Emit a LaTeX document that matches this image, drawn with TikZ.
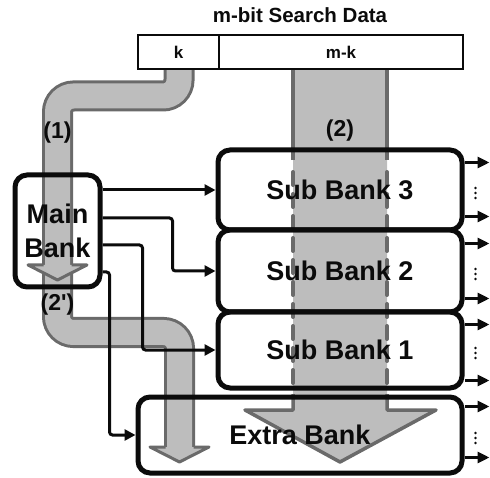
\documentclass[tikz,border=0pt]{standalone}
\usepackage{fontspec}
\setmainfont{Liberation Sans}
\usetikzlibrary{calc,arrows.meta}
\definecolor{cpipe}{HTML}{BDBDBD}
\definecolor{cpipeedge}{HTML}{6A6A6A}
\definecolor{cink}{HTML}{0B0B0B}

\tikzset{
  bank/.style={draw=cink, line width=5pt, rounded corners=12pt, inner sep=0pt,
    text=cink, font=\bfseries\fontsize{27}{34}\selectfont},
  field/.style={draw=cink, line width=1.6pt, fill=white, inner sep=0pt,
    minimum height=34pt, text=cink, font=\bfseries\fontsize{17}{19}\selectfont},
  link/.style={draw=cink, line width=3pt, rounded corners=3pt,
    -{Triangle[length=11pt,width=11pt]}},
  outlink/.style={draw=cink, line width=3pt, -{Triangle[length=12pt,width=11pt]}},
  pipe/.style={draw=cpipeedge, line width=3pt, double=cpipe,
    double distance=25pt, rounded corners=16pt},
  pipeedge/.style={draw=cpipeedge, line width=3.5pt, line join=round},
  tag/.style={text=cink, font=\bfseries\fontsize{23}{25}\selectfont},
}

\begin{document}
\begin{tikzpicture}[x=1pt, y=-1pt]
\useasboundingbox (0,0) rectangle (490,478);
%% ------------------------------------------------------------------ data paths
% (1): the k bits down into the main bank
\draw[pipe] (179,69) -- (179,96) -- (57.5,96) -- (57.5,265);
% (2'): out of the main bank, round to the extra bank
\draw[pipe] (57.5,272) -- (57.5,332.5) -- (179.5,332.5) -- (179.5,447);
\fill[cpipe] (28,265) -- (57.5,280) -- (87,265) -- cycle;
\draw[pipeedge, line width=3pt] (43.5,265) -- (28,265) -- (57.5,280) -- (87,265) -- (71.5,265);
\fill[cpipe] (150,447) -- (179.5,462) -- (209,447) -- cycle;
\draw[pipeedge, line width=3pt] (165.5,447) -- (150,447) -- (179.5,462) -- (209,447) -- (193.5,447);
% (2): the m-k bits straight through the sub banks
\fill[cpipe] (293,69) -- (293,410) -- (245,410) -- (340,462) -- (436,410)
  -- (387,410) -- (387,69) -- cycle;
\foreach \x in {293,387} {
  \draw[pipeedge] (\x,69) -- (\x,160);
  \draw[pipeedge, line width=4pt, line cap=round, dash pattern=on 13pt off 9pt] (\x,172) -- (\x,388);
}
\draw[pipeedge] (293,394) -- (293,410) -- (245,410) -- (340,462) -- (436,410)
  -- (387,410) -- (387,394);
%% ------------------------------------------------------------------ banks
\node[bank, minimum width=85pt, minimum height=112pt, align=center] (main) at (57.5,231) {Main\\Bank};
\node[bank, minimum width=244pt, minimum height=80pt] (sub3) at (340,190) {Sub Bank 3};
\node[bank, minimum width=244pt, minimum height=82pt] (sub2) at (340,271) {Sub Bank 2};
\node[bank, minimum width=244pt, minimum height=76pt] (sub1) at (340,350) {Sub Bank 1};
\node[bank, minimum width=324pt, minimum height=76pt] (extra) at (300,435) {Extra Bank};
% outputs of each bank
\foreach \b/\t/\u in {sub3/15/16, sub2/16/16, sub1/15/10, extra/12/18} {
  \draw[outlink] ([yshift=-\t pt]\b.north east) -- ++(25,0);
  \draw[outlink] ([yshift=\u pt]\b.south east) -- ++(25,0);
  \foreach \d in {-5,0,5}
    \fill[cink] ($(\b.east)+(11,\d+3)$) circle (1.4);
}
% main bank selects the sub banks
\draw[link] (main.east |- sub3.west) -- (sub3.west);
\draw[link] ([yshift=13pt]main.east) -| ([xshift=-43pt]sub2.west) -- (sub2.west);
\draw[link] ([yshift=-14pt]main.east) -| ([xshift=-73pt]sub1.west) -- (sub1.west);
\draw[link] ([yshift=-41pt]main.east) -| ([xshift=-26pt]extra.west) -- (extra.west);
%% ------------------------------------------------------------------ search word
\node[field, minimum width=81pt] (kfield) at (178.5,52) {k};
\node[field, minimum width=244pt] (mkfield) at (341,52) {m-k};
\node[text=cink, font=\bfseries\fontsize{20.5}{22}\selectfont] (title) at (300,15) {m-bit Search Data};
%% ------------------------------------------------------------------ tags
\node[tag] (tag1) at (57.5,133) {(1)};
\node[tag] (tag2) at (340,131) {(2)};
\node[tag] (tag2p) at (57.5,305) {(2\textquotesingle)};
\end{tikzpicture}
\end{document}
